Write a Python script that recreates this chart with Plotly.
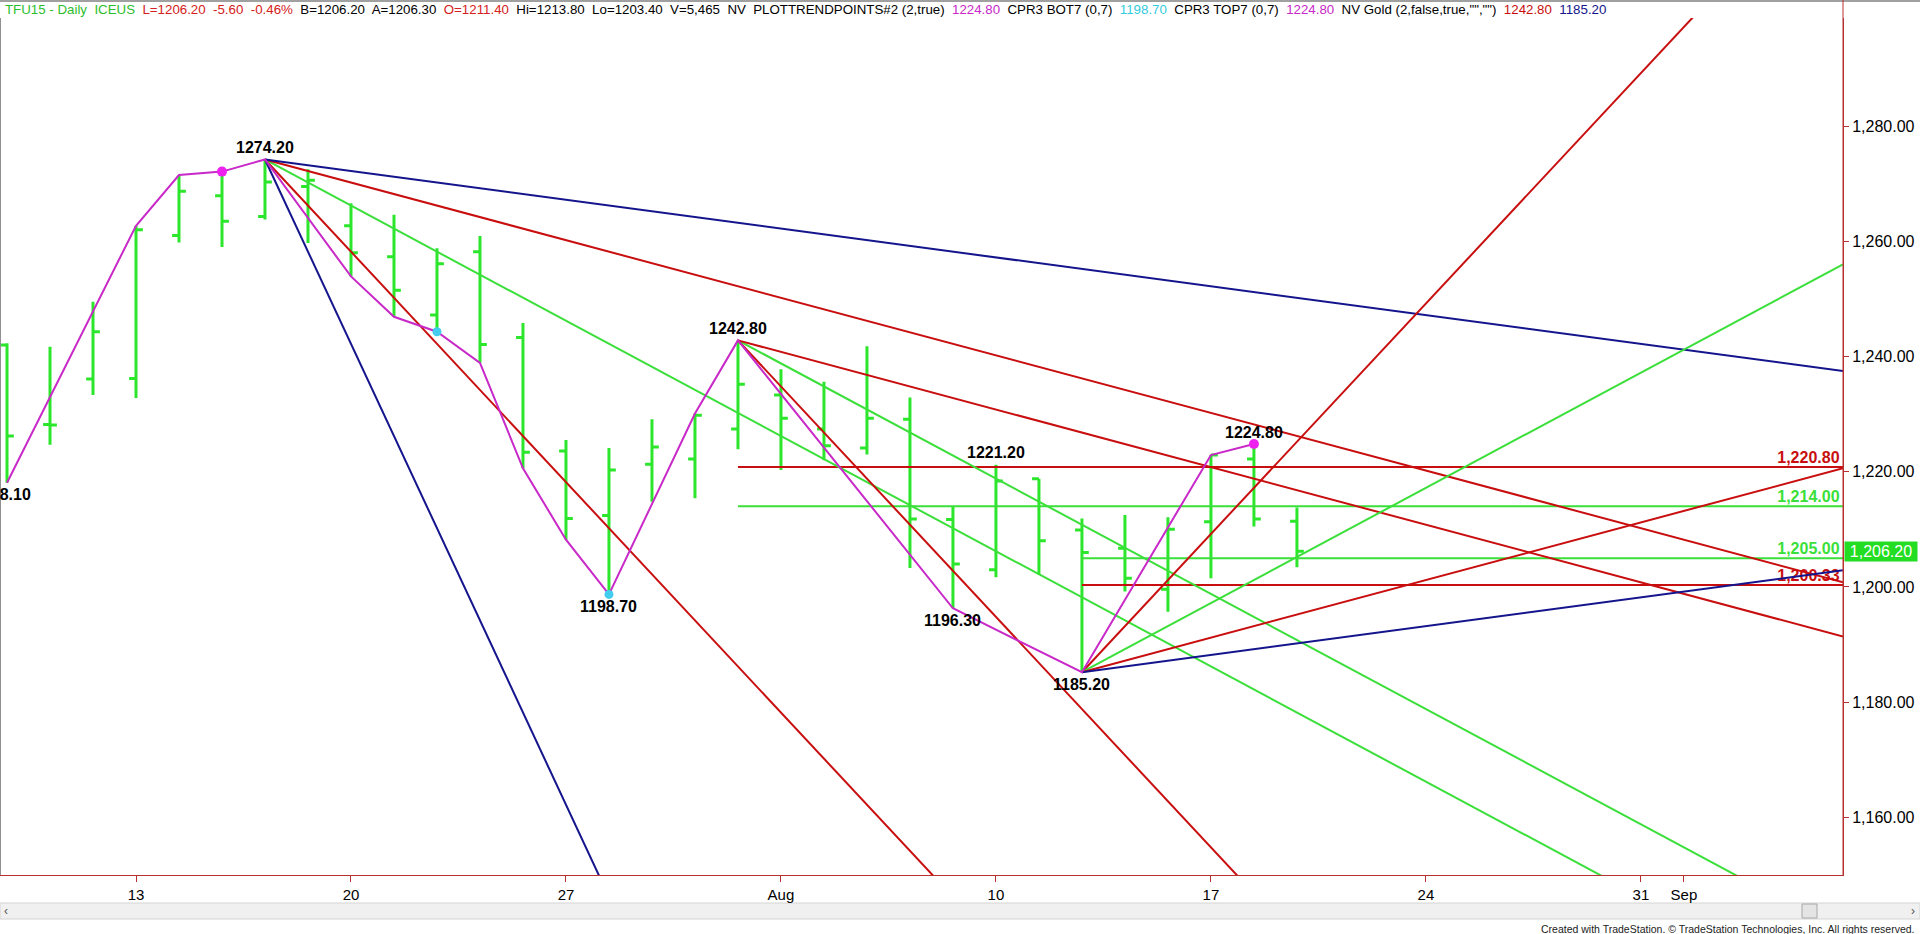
import plotly.graph_objects as go

# ---- data ----
dates = ["Jul 08", "Jul 09", "Jul 10", "Jul 13", "Jul 14", "Jul 15", "Jul 16", "Jul 17",
         "Jul 20", "Jul 21", "Jul 22", "Jul 23", "Jul 24", "Jul 27", "Jul 28", "Jul 29",
         "Jul 30", "Jul 31", "Aug 03", "Aug 04", "Aug 05", "Aug 06", "Aug 07", "Aug 10",
         "Aug 11", "Aug 12", "Aug 13", "Aug 14", "Aug 17", "Aug 18", "Aug 19"]
opens = [1242.0, 1228.2, 1236.1, 1236.2, 1261.0, 1267.9, 1264.3, 1269.5, 1262.7, 1257.3,
         1247.2, 1258.2, 1243.3, 1223.6, 1212.4, 1221.3, 1222.2, 1227.4, 1233.3, 1227.4,
         1224.1, 1229.1, 1211.7, 1203.0, 1218.8, 1209.9, 1206.7, 1199.6, 1211.3, 1222.2, 1211.4]
highs = [1242.3, 1241.7, 1249.5, 1262.7, 1271.5, 1272.1, 1274.2, 1272.5, 1266.6, 1264.6,
         1258.8, 1260.9, 1245.8, 1225.5, 1224.1, 1229.1, 1230.1, 1242.8, 1237.8, 1235.6,
         1241.8, 1232.9, 1213.9, 1221.2, 1218.8, 1211.9, 1212.5, 1212.1, 1222.9, 1224.8, 1213.8]
lows = [1218.1, 1224.7, 1233.3, 1232.8, 1259.8, 1259.0, 1263.8, 1259.7, 1253.9, 1246.9,
        1244.3, 1238.9, 1220.6, 1208.2, 1198.7, 1214.8, 1215.4, 1223.9, 1220.3, 1222.0,
        1223.0, 1203.3, 1196.3, 1201.7, 1202.1, 1185.2, 1199.2, 1195.7, 1201.5, 1210.5, 1203.4]
closes = [1226.2, 1228.1, 1244.3, 1262.0, 1268.7, 1263.5, 1270.3, 1270.6, 1258.0, 1251.5,
          1256.1, 1242.1, 1223.4, 1211.9, 1220.3, 1224.3, 1229.8, 1235.2, 1229.3, 1224.5,
          1229.3, 1211.8, 1204.0, 1218.4, 1208.0, 1206.0, 1201.5, 1210.0, 1222.9, 1211.8, 1206.2]

tick_bars = [3, 8, 13, 18, 23, 28, 33, 38, 39]
tick_text = ["13", "20", "27", "Aug", "10", "17", "24", "31", "Sep"]
y_ticks = [1160, 1180, 1200, 1220, 1240, 1260, 1280]

# swing line (PLOTTRENDPOINTS): bar index + which end of the bar
zz_bars = [0, 3, 4, 5, 6, 8, 9, 10, 11, 12, 13, 14, 16, 17, 22, 25, 28, 29]
zz_side = ["L", "H", "H", "H", "H", "L", "L", "L", "L", "L", "L", "L", "H", "H", "L", "L", "H", "H"]

label_bars = [0, 6, 14, 17, 22, 23, 25, 29]
label_side = ["L", "H", "L", "H", "L", "H", "L", "H"]

top_dot_bars = [5, 29]
bot_dot_bars = [10, 14]

# angle fans: pivot bar, side, slopes (points per bar), colours
fan_pivots = [(6, "H"), (17, "H"), (25, "L")]
fan_slopes = [[-16, -8, -4, -2, -1], [-8, -4, -2], [8, 4, 2, 1]]
fan_colors = [["navy", "red", "green", "red", "navy"], ["red", "green", "red"],
              ["red", "green", "red", "navy"]]

levels = [1220.80, 1214.00, 1205.00, 1200.33]
level_start = [17, 17, 25, 25]
level_colors = ["red", "green", "green", "red"]

last_price = 1206.20

# ---- style ----
COL = {"red": "#C80E0E", "green": "#3ADF3A", "navy": "#14148C"}
BAR = "#2CE62C"
AXIS = "#B83030"
FONT = "Arial, Liberation Sans, sans-serif"
X_MIN, X_MAX = -0.163, 42.70
Y_MIN, Y_MAX = 1150.0, 1298.76

idx = list(range(len(dates)))


def price(i, side):
    return highs[i] if side == "H" else lows[i]


fig = go.Figure()

fig.add_trace(go.Ohlc(x=idx, open=opens, high=highs, low=lows, close=closes,
                      increasing=dict(line=dict(color=BAR, width=3)),
                      decreasing=dict(line=dict(color=BAR, width=3)),
                      tickwidth=0.16, hoverinfo="skip"))

# horizontal levels
for lv, st, c in zip(levels, level_start, level_colors):
    fig.add_trace(go.Scatter(x=[st, X_MAX], y=[lv, lv], mode="lines",
                             line=dict(color=COL[c], width=2), hoverinfo="skip"))
    fig.add_trace(go.Scatter(x=[X_MAX - 0.08], y=[lv], mode="text",
                             text=["<b>{:,.2f}</b>".format(lv)], textposition="top left",
                             textfont=dict(family=FONT, size=16, color=COL[c]),
                             cliponaxis=False, hoverinfo="skip"))

# fan lines
for (pb, ps), slopes, cols in zip(fan_pivots, fan_slopes, fan_colors):
    p0 = price(pb, ps)
    for s, c in zip(slopes, cols):
        fig.add_trace(go.Scatter(x=[pb, X_MAX], y=[p0, p0 + s * (X_MAX - pb)], mode="lines",
                                 line=dict(color=COL[c], width=2), hoverinfo="skip"))

# swing line
fig.add_trace(go.Scatter(x=zz_bars, y=[price(i, s) for i, s in zip(zz_bars, zz_side)],
                         mode="lines", line=dict(color="#C829C8", width=2), hoverinfo="skip"))
fig.add_trace(go.Scatter(x=top_dot_bars, y=[highs[i] for i in top_dot_bars], mode="markers",
                         marker=dict(color="#EE22EE", size=10), hoverinfo="skip"))
fig.add_trace(go.Scatter(x=bot_dot_bars, y=[lows[i] for i in bot_dot_bars], mode="markers",
                         marker=dict(color="#44CCEE", size=9), hoverinfo="skip"))

annotations = []
for i, s in zip(label_bars, label_side):
    annotations.append(dict(x=i, y=price(i, s), text="<b>{:.2f}</b>".format(price(i, s)),
                            showarrow=False, yshift=12 if s == "H" else -12,
                            xshift=-5 if i == 0 else 0,  # first label runs off the left edge
                            font=dict(family=FONT, size=16, color="black")))

header = ('<span style="color:#2DBE2D">TFU15 - Daily&nbsp; ICEUS</span>&nbsp; '
          '<span style="color:#D42020">L=1206.20&nbsp; -5.60&nbsp; -0.46%</span>&nbsp; '
          'B=1206.20&nbsp; A=1206.30&nbsp; '
          '<span style="color:#D42020">O=1211.40</span>&nbsp; '
          'Hi=1213.80&nbsp; Lo=1203.40&nbsp; V=5,465&nbsp; NV&nbsp; PLOTTRENDPOINTS#2 (2,true)&nbsp; '
          '<span style="color:#C829C8">1224.80</span>&nbsp; CPR3 BOT7 (0,7)&nbsp; '
          '<span style="color:#33CCDD">1198.70</span>&nbsp; CPR3 TOP7 (0,7)&nbsp; '
          '<span style="color:#C829C8">1224.80</span>&nbsp; NV Gold (2,false,true,"","")&nbsp; '
          '<span style="color:#C80E0E">1242.80</span>&nbsp; '
          '<span style="color:#14148C">1185.20</span>')
annotations.append(dict(xref="paper", yref="paper", x=0, y=1, xanchor="left", yanchor="middle",
                        xshift=3, yshift=9, text=header, showarrow=False,
                        font=dict(family=FONT, size=13.3, color="black")))

annotations.append(dict(xref="paper", x=1, y=last_price, xanchor="left", yanchor="middle",
                        xshift=1, text="{:,.2f}".format(last_price), showarrow=False,
                        bgcolor="#22DD22", borderpad=1, width=70,
                        font=dict(family=FONT, size=16, color="white")))

annotations.append(dict(xref="paper", yref="paper", x=1, y=0, xanchor="right", yanchor="middle",
                        xshift=74, yshift=-54, showarrow=False,
                        text="Created with TradeStation. \u00a9 TradeStation Technologies, Inc. All rights reserved.",
                        font=dict(family=FONT, size=10.5, color="#222222")))
for xs, sym in [(6, "\u2039"), (1913, "\u203a")]:
    annotations.append(dict(xref="paper", yref="paper", x=0, y=0, xanchor="center",
                            yanchor="middle", xshift=xs, yshift=-36, text=sym, showarrow=False,
                            font=dict(family=FONT, size=12, color="#555555")))

shapes = [
    # scrollbar
    dict(type="rect", xref="paper", yref="paper", xsizemode="pixel", ysizemode="pixel",
         xanchor=0, yanchor=0, x0=0, x1=1920, y0=-44, y1=-28,
         fillcolor="#F0F0F0", line=dict(color="#D4D4D4", width=1), layer="below"),
    dict(type="rect", xref="paper", yref="paper", xsizemode="pixel", ysizemode="pixel",
         xanchor=0, yanchor=0, x0=1802, x1=1817, y0=-43, y1=-29,
         fillcolor="#E4E4E4", line=dict(color="#A8A8A8", width=1)),
    # window borders
    dict(type="line", xref="paper", yref="paper", xsizemode="pixel", ysizemode="pixel",
         xanchor=0, yanchor=1, x0=0, x1=1920, y0=17, y1=17,
         line=dict(color="#A0A0A0", width=2)),
    dict(type="line", xref="paper", yref="paper", x0=0, x1=0, y0=0, y1=1,
         line=dict(color="#909090", width=2)),
    dict(type="line", xref="paper", yref="paper", ysizemode="pixel", yanchor=1,
         x0=1, x1=1, y0=-857, y1=18, line=dict(color=AXIS, width=1)),
]

fig.update_layout(
    width=1920, height=934,
    margin=dict(l=0, r=77, t=18, b=59),
    plot_bgcolor="white", paper_bgcolor="white",
    showlegend=False,
    font=dict(family=FONT, color="black"),
    annotations=annotations,
    shapes=shapes,
)
fig.update_xaxes(range=[X_MIN, X_MAX], tickmode="array", tickvals=tick_bars, ticktext=tick_text,
                 ticks="outside", ticklen=6, tickcolor=AXIS, showline=True, linecolor=AXIS,
                 linewidth=1, showgrid=False, zeroline=False, rangeslider_visible=False,
                 tickfont=dict(family=FONT, size=15, color="black"))
fig.update_yaxes(side="right", range=[Y_MIN, Y_MAX], tickmode="array", tickvals=y_ticks,
                 tickformat=",.2f", ticks="outside", ticklen=5, tickcolor=AXIS, showline=True,
                 linecolor=AXIS, linewidth=1, showgrid=False, zeroline=False,
                 tickfont=dict(family=FONT, size=16, color="black"))

# page body has a default margin; remove it so the figure sits at the window origin
fig.write_html("out.html", config={"displayModeBar": False},
               post_script="document.body.style.margin='0';document.body.style.overflow='hidden';")
